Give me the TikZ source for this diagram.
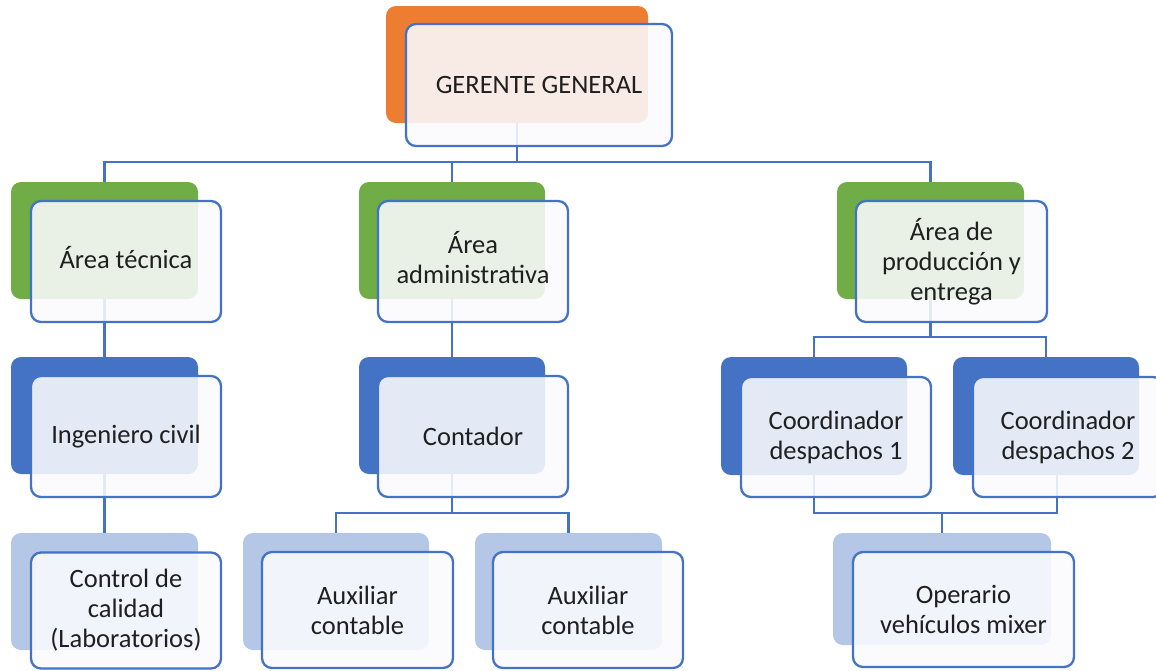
\documentclass[tikz,border=0pt]{standalone}
\usepackage{fontspec}
\setmainfont{Carlito}
\usetikzlibrary{backgrounds}
\definecolor{cOrange}{HTML}{ED7D31}
\definecolor{cGreen}{HTML}{70AD47}
\definecolor{cBlue}{HTML}{4472C4}
\definecolor{cLight}{HTML}{B4C7E7}
\definecolor{cFront}{RGB}{250,251,254}
\definecolor{cText}{HTML}{1F1F1F}
\begin{document}
\begin{tikzpicture}[x=1pt,y=-1pt,
  sz/.style 2 args={minimum width=#1pt,minimum height=#2pt},
  backbox/.style={rectangle,rounded corners=10pt,inner sep=0pt,draw=none,fill=#1},
  frontbox/.style={rectangle,rounded corners=10pt,inner sep=0pt,draw=cBlue,line width=2.3pt,
    fill=cFront,fill opacity=0.88,text opacity=1,text=cText,align=center,
    font=\fontsize{26.5}{30}\selectfont},
  deeptail/.style={execute at end node={\rule[-9pt]{0pt}{0pt}}},
  conn/.style={draw=cBlue,line width=2.7pt}]
\useasboundingbox (0,0) rectangle (1156,670);
\clip (0,0) rectangle (1156,670);
% Level 0
\node[backbox=cOrange,sz={262}{117}] (gg-b) at (517,64.5) {};
\node[frontbox,sz={266}{122}] (gg) at (539,85) {GERENTE GENERAL};
% Level 1
\node[backbox=cGreen,sz={187}{117}] (at-b) at (104.5,240.5) {};
\node[frontbox,deeptail,sz={190}{121}] (at) at (126,261.5) {Área técnica};
\node[backbox=cGreen,sz={186}{117}] (aa-b) at (452,240.5) {};
\node[frontbox,deeptail,sz={190}{121}] (aa) at (473,261.5) {Área\\administrativa};
\node[backbox=cGreen,sz={187}{117}] (ap-b) at (930.5,240.5) {};
\node[frontbox,sz={191}{121}] (ap) at (951.5,261.5) {Área de\\producción y\\entrega};
% Level 2
\node[backbox=cBlue,sz={187}{117}] (ic-b) at (104.5,415.5) {};
\node[frontbox,sz={190}{121}] (ic) at (126,436.5) {Ingeniero civil};
\node[backbox=cBlue,sz={186}{117}] (co-b) at (452,415.5) {};
\node[frontbox,sz={190}{121}] (co) at (473,436.5) {Contador};
\node[backbox=cBlue,sz={186}{118}] (c1-b) at (814,416) {};
\node[frontbox,sz={190}{120}] (c1) at (836,437) {Coordinador\\despachos 1};
\node[backbox=cBlue,sz={186}{118}] (c2-b) at (1046,416) {};
\node[frontbox,sz={190}{120}] (c2) at (1068,437) {Coordinador\\despachos 2};
% Level 3
\node[backbox=cLight,sz={187}{117}] (ctrl-b) at (104.5,591.5) {};
\node[frontbox,sz={190}{116}] (ctrl) at (126,610.5) {Control de\\calidad\\(Laboratorios)};
\node[backbox=cLight,sz={186}{117}] (a1-b) at (336,591.5) {};
\node[frontbox,sz={191}{116}] (a1) at (357.5,610) {Auxiliar\\contable};
\node[backbox=cLight,sz={187}{117}] (a2-b) at (568.5,591.5) {};
\node[frontbox,sz={190}{116}] (a2) at (588,610) {Auxiliar\\contable};
\node[backbox=cLight,sz={218}{112}] (op-b) at (942,589) {};
\node[frontbox,sz={221}{115}] (op) at (963.5,609.5) {Operario\\vehículos mixer};
% Connectors
\begin{scope}[on background layer]
\coordinate (bus1) at (0,162);
\coordinate (bus2) at (0,513);
\coordinate (bus3) at (0,337);
\coordinate (bus4) at (0,513);
\coordinate (c2o) at ([xshift=11pt]c2-b.south);
\draw[conn] (gg-b.south) -- (gg-b.south |- bus1);
\draw[conn] (at-b.north) |- (bus1 -| ap-b.north) -- (ap-b.north);
\draw[conn] (aa-b.north) -- (aa-b.north |- bus1);
\draw[conn] (at-b.south) -- (ic-b.north);
\draw[conn] (ic-b.south) -- (ctrl-b.north);
\draw[conn] (aa-b.south) -- (co-b.north);
\draw[conn] (co-b.south) -- (co-b.south |- bus2);
\draw[conn] (a1-b.north) |- (bus2 -| a2-b.north) -- (a2-b.north);
\draw[conn] (ap-b.south) -- (ap-b.south |- bus3);
\draw[conn] (c1-b.north) |- (bus3 -| c2-b.north) -- (c2-b.north);
\draw[conn] (c1-b.south) |- (bus4 -| c2o) -- (c2o);
\draw[conn] (op-b.north) -- (op-b.north |- bus4);
\end{scope}
\end{tikzpicture}
\end{document}
